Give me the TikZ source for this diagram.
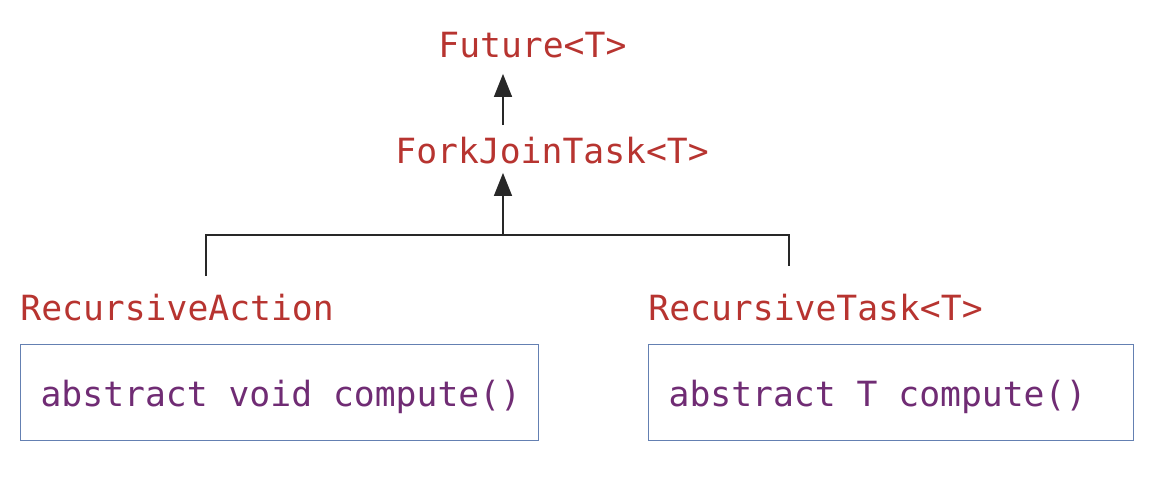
\documentclass[tikz,border=0pt]{standalone}
\usepackage{fontspec}
\setmonofont[WordSpace={1,0,0}]{DejaVu Sans Mono}
\usepackage{tikz}
\usetikzlibrary{arrows.meta, calc}
\definecolor{clsred}{RGB}{183,52,48}
\definecolor{methpurple}{RGB}{112,44,116}
\definecolor{boxblue}{RGB}{100,128,178}
\definecolor{linegray}{RGB}{40,40,40}
\newcommand{\methline}[2]{\makebox[#1][l]{#2}}
\tikzset{
  cls/.style={inner sep=0pt, anchor=base west, text=clsred, font=\ttfamily\fontsize{17.35}{20}\selectfont},
  meth/.style={draw=boxblue, line width=0.6pt, anchor=north west, inner xsep=10pt, inner ysep=0pt,
    text=methpurple, font=\ttfamily\fontsize{17.35}{20}\selectfont,
    minimum height=48pt, text height=18pt, text depth=4pt},
  conn/.style={linegray, line width=0.75pt},
  arr/.style={conn, -{Triangle[width=9pt, length=11.5pt]}}
}
\begin{document}
\begin{tikzpicture}[x=0.5pt, y=-0.5pt]
\useasboundingbox (0,0) rectangle (1165,478);
\node[cls] (future) at (438,57) {Future<T>};
\node[cls] (fjt) at (395,163) {ForkJoinTask<T>};
\node[cls] (ract) at (20,320) {RecursiveAction};
\node[cls] (rtask) at (648,320) {RecursiveTask<T>};
\node[meth] (rabox) at (20,344) {\methline{239pt}{abstract void compute()}};
\node[meth] (rtbox) at (648,344) {\methline{222.5pt}{abstract T compute()}};
% hierarchy lines
\coordinate (hub) at (503,235);
\coordinate (lj) at (206,235);
\coordinate (rj) at (789,235);
\draw[arr] (hub) -- (hub |- fjt.south) [shorten >=4.5pt];
\draw[arr, shorten <=5.5pt, shorten >=8pt] (hub |- fjt.north) -- (hub |- future.south);
\draw[conn, shorten <=8.5pt, shorten >=13.5pt] (lj |- ract.north) -- (lj) -- (rj) -- (rj |- rtask.north);
\end{tikzpicture}
\end{document}
